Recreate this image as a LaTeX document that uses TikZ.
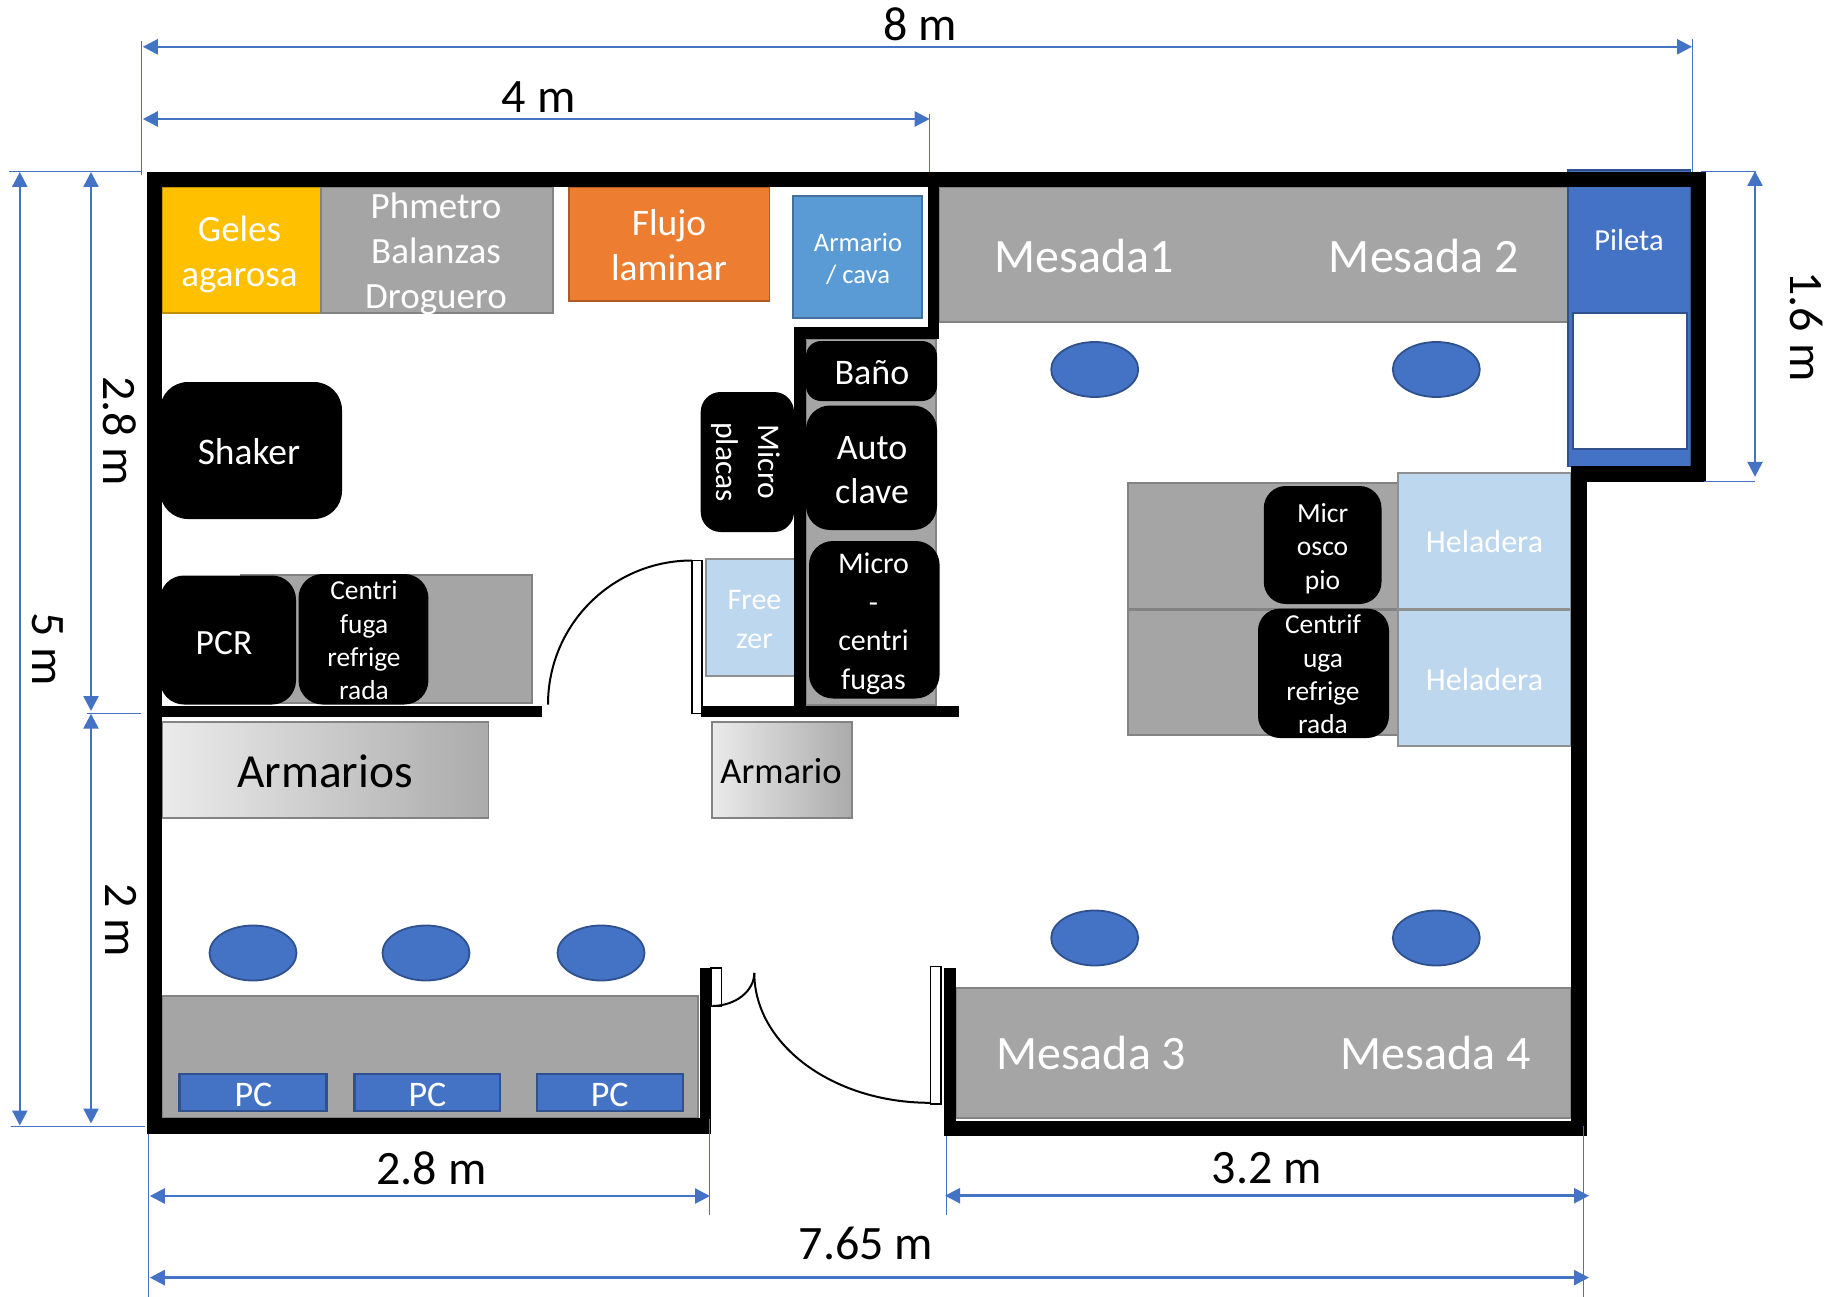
\documentclass[tikz,border=0pt]{standalone}
\usepackage{fontspec}
\setmainfont{Carlito}
\usetikzlibrary{arrows.meta,shapes.geometric}
\definecolor{gold}{HTML}{FFC000}
\definecolor{goldd}{HTML}{BF9000}
\definecolor{greyf}{HTML}{A5A5A5}
\definecolor{greyd}{HTML}{838383}
\definecolor{orangef}{HTML}{ED7D31}
\definecolor{oranged}{HTML}{AE5A21}
\definecolor{bluef}{HTML}{4472C4}
\definecolor{blued}{HTML}{2F528F}
\definecolor{skyf}{HTML}{5B9BD5}
\definecolor{skyd}{HTML}{41719C}
\definecolor{paleb}{HTML}{BDD7EE}
\definecolor{storel}{HTML}{EBEBEB}
\definecolor{storer}{HTML}{ABABAB}
\newcommand\lab[7][]{\node[inner sep=0pt,align=center,font={\fontsize{#5}{#6}\selectfont},text=white,#1] (#2) at (#3,#4) {#7};}
\tikzset{
  wall/.style={fill=black,draw=none},
  gelbox/.style={fill=gold,draw=goldd,line width=1.8pt},
  bench/.style={fill=greyf,draw=greyd,line width=2pt},
  flow/.style={fill=orangef,draw=oranged,line width=1.8pt},
  cab/.style={fill=skyf,draw=skyd,line width=2pt},
  sink/.style={fill=bluef,draw=blued,line width=1.8pt},
  hollow/.style={fill=white,draw=blued,line width=1.8pt},
  cold/.style={fill=paleb,draw=greyd!90,line width=2pt},
  equip/.style={fill=black,draw=none,rounded corners=#1},
  equip/.default=24pt,
  store/.style={left color=storel,right color=storer,draw=greyd,line width=1.6pt},
  stool/.style={ellipse,fill=bluef,draw=blued,line width=1.8pt,minimum width=87pt,minimum height=55pt,inner sep=0pt},
  pcbox/.style={fill=bluef,draw=blued,line width=2.2pt},
  doorleaf/.style={fill=white,draw=black,line width=1.5pt},
  swing/.style={draw=black,line width=2pt},
  dim/.style={draw=bluef,line width=2.5pt,{Triangle[length=15pt,width=15pt]}-{Triangle[length=15pt,width=15pt]}},
  ext/.style={draw=bluef,line width=1pt},
}
\begin{document}
\begin{tikzpicture}[x=1pt,y=-1pt]
\useasboundingbox (0,0) rectangle (1828,1297);
\fill[white] (0,0) rectangle (1828,1297);
% furniture
\path[gelbox] (162,187.4) rectangle (320.6,313);
\path[bench] (320.6,187.4) rectangle (552.6,313);
\path[flow] (569,187.4) rectangle (769.5,301.4);
\path[cab] (793,195.7) rectangle (922,318.4);
\path[bench] (938.5,187.4) rectangle (1568,321.7);
\path[sink] (1568,170) rectangle (1690.5,466.4);
\path[hollow] (1573,313) rectangle (1687,448.6);
\path[bench] (1128,483) rectangle (1398,608.6);
\path[bench] (1128,609.5) rectangle (1398,735.2);
\path[cold] (1398,472.6) rectangle (1571,608.6);
\path[cold] (1398,609.5) rectangle (1571,745.5);
\path[bench] (240.7,575) rectangle (531.6,703);
\path[bench] (806,339) rectangle (936,704.6);
\path[cold] (706,559) rectangle (803.3,675.5);
\path[store] (162,722) rectangle (488.5,818);
\path[store] (711.7,722) rectangle (852,818);
\path[bench] (162,995.7) rectangle (698,1118);
\path[bench] (956,987.5) rectangle (1571,1118);
\path[pcbox] (179.5,1074.2) rectangle (326.4,1111.2);
\path[pcbox] (354.4,1074.2) rectangle (500,1111.2);
\path[pcbox] (536.9,1074.2) rectangle (682.6,1111.2);
% black equipment
\path[equip=28pt] (160,382) rectangle (342,519);
\path[equip=20pt] (700.7,392) rectangle (794,532);
\path[equip=15pt] (806,341) rectangle (937,401);
\path[equip] (806,405.5) rectangle (937,530);
\path[equip] (809,541) rectangle (939.6,698.5);
\path[equip] (160,575.5) rectangle (296,704.5);
\path[equip] (298.5,574) rectangle (428.4,704.5);
\path[equip=22pt] (1263.8,486) rectangle (1381.5,604);
\path[equip=22pt] (1258,608.6) rectangle (1389,738);
% stools
\node[stool] (s1) at (1094.7,369.5) {};
\node[stool] (s2) at (1436.3,369.5) {};
\node[stool] (s3) at (1094.7,938) {};
\node[stool] (s4) at (1436.3,938) {};
\node[stool] (s5) at (253,953) {};
\node[stool] (s6) at (426,953) {};
\node[stool] (s7) at (601,953) {};
% doors
\path[doorleaf] (692,560.5) rectangle (702,713.7);
\path[doorleaf] (711,968) rectangle (721.6,1006.7);
\path[doorleaf] (930.3,966.7) rectangle (940.8,1104);
\coordinate (dl1) at (692,560.5);
\coordinate (dl2) at (548,704.6);
\coordinate (dm1) at (712.3,1005.9);
\coordinate (dm2) at (754.3,972.9);
\coordinate (dm3) at (930,1102.8);
\draw[swing] (dl1) .. controls (612.5,560.5) and (548,624.6) .. (dl2);
\draw[swing] (dm1) .. controls (735.5,1005.9) and (754.3,991) .. (dm2);
\draw[swing] (dm2) .. controls (754.3,1044.6) and (833,1102.8) .. (dm3);
% walls
\path[wall] (147,172) rectangle (1705.6,187.5);
\path[wall] (147,172) rectangle (162,1134.2);
\path[wall] (147,1118.2) rectangle (711,1134.2);
\path[wall] (699.5,968) rectangle (711,1134.2);
\path[wall] (943.7,1120.5) rectangle (1586.7,1136);
\path[wall] (943.7,968) rectangle (956,1136);
\path[wall] (1571,466.4) rectangle (1586.7,1136);
\path[wall] (1571,466.4) rectangle (1705.6,481.8);
\path[wall] (1690.5,172) rectangle (1705.6,481.8);
\path[wall] (162,705.5) rectangle (542,717);
\path[wall] (700.7,705.5) rectangle (958.9,717);
\path[wall] (794,327) rectangle (805.6,717);
\path[wall] (794,327) rectangle (938.5,339);
\path[wall] (928,187) rectangle (938.5,339);
% labels
\lab{tgeles}{239.5}{254.5}{37}{45}{Geles\\agarosa}
\lab{tph}{436}{253.5}{37}{45}{Phmetro\\Balanzas\\Droguero}
\lab{tflujo}{669}{245.5}{37.5}{45}{Flujo\\laminar}
\lab{tcava}{858}{259}{26.6}{32}{Armario\\/ cava}
\lab{tm1}{1084.5}{256}{48}{50}{Mesada1}
\lab{tm2}{1424}{256}{48}{50}{Mesada 2}
\lab{tpil}{1629}{240}{30.5}{36}{Pileta}
\lab{tsh}{249}{452}{37.5}{40}{Shaker}
\lab[rotate=-90]{tmp}{745.5}{462}{31.5}{42}{Micro\\placas}
\lab{tba}{872}{373}{36}{40}{Baño}
\lab{tau}{872}{470.5}{36}{44}{Auto\\clave}
\lab{tmc}{873.5}{624}{30}{38.5}{Micro\\-\\centri\\fugas}
\lab{tfr}{754.5}{619.5}{30}{38.5}{Free\\zer}
\lab{tpcr}{224}{643}{35.5}{40}{PCR}
\lab{tcf}{364}{640.5}{27.4}{33.4}{Centri\\fuga\\refrige\\rada}
\lab[text=black]{tar}{325}{771}{47.5}{50}{Armarios}
\lab[text=black]{tar2}{781}{771}{36.6}{40}{Armario}
\lab{tpc1}{253.5}{1094.6}{36}{40}{PC}
\lab{tpc2}{427.5}{1094.6}{36}{40}{PC}
\lab{tpc3}{609.7}{1094.6}{36}{40}{PC}
\lab{tm3}{1091.2}{1053.5}{48}{50}{Mesada 3}
\lab{tm4}{1435.7}{1053.5}{48}{50}{Mesada 4}
\lab{tmi}{1322.6}{548.5}{27.6}{33.7}{Micr\\osco\\pio}
\lab{tcr}{1323}{674.5}{27.4}{33.4}{Centrif\\uga\\refrige\\rada}
\lab{the1}{1484.5}{541.5}{32}{36}{Heladera}
\lab{the2}{1484.5}{680}{32}{36}{Heladera}
% dimension labels
\lab[text=black]{d8}{920}{24}{48}{50}{8 m}
\lab[text=black]{d4}{538.6}{97}{48}{50}{4 m}
\lab[text=black]{d28b}{431.4}{1168}{48}{50}{2.8 m}
\lab[text=black]{d32}{1266.7}{1168.5}{48}{50}{3.2 m}
\lab[text=black]{d765}{866}{1243}{48}{50}{7.65 m}
\lab[text=black,rotate=-90]{d28}{120}{431}{48}{50}{2.8 m}
\lab[text=black,rotate=-90]{d5}{47.5}{649}{48}{50}{5 m}
\lab[text=black,rotate=-90]{d2}{121.5}{920}{48}{50}{2 m}
\lab[text=black,rotate=-90]{d16}{1806}{326.4}{48}{50}{1.6 m}
% dimension coordinates
\coordinate (ax8) at (142.8,46.8); \coordinate (bx8) at (1692,46.8);
\coordinate (ax4) at (142.8,119); \coordinate (bx4) at (929.7,119);
\coordinate (ay5) at (19.8,172); \coordinate (by5) at (19.8,1125.5);
\coordinate (ay28) at (91,172); \coordinate (by28) at (91,711);
\coordinate (ay2) at (91,713.7); \coordinate (by2) at (91,1123.5);
\coordinate (ay16) at (1755,171); \coordinate (by16) at (1755,476.8);
\coordinate (ab28) at (149.8,1196); \coordinate (bb28) at (710,1196);
\coordinate (ab32) at (945,1195.7); \coordinate (bb32) at (1589,1195.7);
\coordinate (ab76) at (149.8,1277.6); \coordinate (bb76) at (1589,1277.6);
\draw[dim] (ax8) -- (bx8);
\draw[dim] (ax4) -- (bx4);
\draw[dim] (ay5) -- (by5);
\draw[dim] (ay28) -- (by28);
\draw[dim] (ay2) -- (by2);
\draw[dim] (ay16) -- (by16);
\draw[dim] (ab28) -- (bb28);
\draw[dim] (ab32) -- (bb32);
\draw[dim] (ab76) -- (bb76);
% extension lines
\coordinate (e1a) at (141,41.5); \coordinate (e1b) at (141,175);
\coordinate (e2a) at (1692,39.4); \coordinate (e2b) at (1692,172);
\coordinate (e3a) at (929.7,114); \coordinate (e3b) at (929.7,172);
\coordinate (e4a) at (8.7,172); \coordinate (e4b) at (141.7,172);
\coordinate (e5a) at (87.4,713.3); \coordinate (e5b) at (141,713.3);
\coordinate (e6a) at (10.5,1126); \coordinate (e6b) at (144.6,1126);
\coordinate (e7a) at (1701,172); \coordinate (e7b) at (1756,172);
\coordinate (e8a) at (1704,481.8); \coordinate (e8b) at (1755,481.8);
\coordinate (e9a) at (148.6,1134); \coordinate (e9b) at (148.6,1297);
\coordinate (e10a) at (709.4,1119); \coordinate (e10b) at (709.4,1215);
\coordinate (e11a) at (946,1136); \coordinate (e11b) at (946,1215);
\coordinate (e12a) at (1583.8,1125.5); \coordinate (e12b) at (1583.8,1297);
\foreach \n in {1,...,12} {\draw[ext] (e\n a) -- (e\n b);}
\end{tikzpicture}
\end{document}
